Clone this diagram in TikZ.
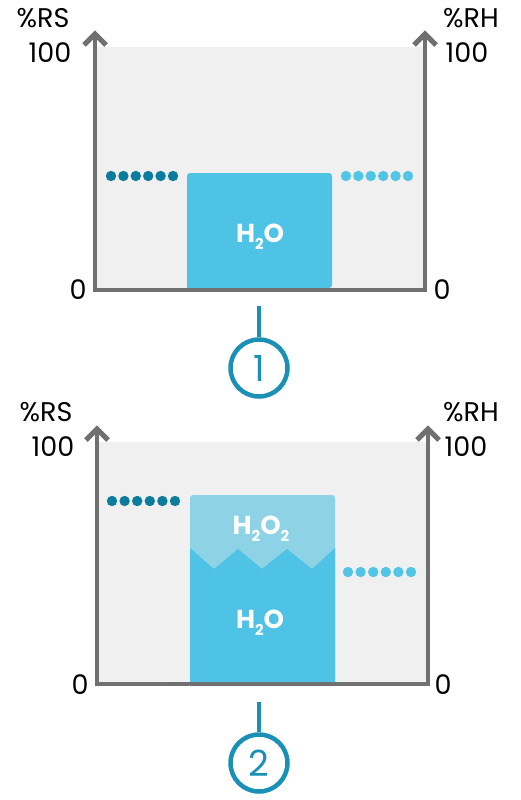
\documentclass[tikz,border=0pt]{standalone}
\usepackage{fontspec}
\setmainfont{Poppins}
\definecolor{axisgray}{HTML}{707070}
\definecolor{bggray}{HTML}{F0F0F0}
\definecolor{waterblue}{HTML}{4EC3E6}
\definecolor{peroxblue}{HTML}{8DD3E5}
\definecolor{darkdot}{HTML}{0B7C9C}
\definecolor{lightdot}{HTML}{52C4E4}
\definecolor{teal}{HTML}{1A90B6}
\tikzset{
  axisline/.style={draw=axisgray, line width=4.5pt, line join=miter},
  chevron/.style={draw=axisgray, line width=5pt, line join=miter, line cap=butt},
  axlabel/.style={font=\fontsize{27}{28}\selectfont, text=black, inner sep=0pt},
  chem/.style={font=\bfseries\fontsize{26}{28}\selectfont, text=white, inner sep=0pt},
  stepcircle/.style={circle, draw=teal, line width=4.5pt, minimum size=57pt, inner sep=0pt,
    font=\fontsize{36}{38}\selectfont, text=teal},
  stem/.style={draw=teal, line width=4pt},
  ddot/.style={fill=darkdot},
  ldot/.style={fill=lightdot},
}
\newcommand{\chev}[2]{\draw[chevron] (#1-11,#2+12) -- (#1,#2+1) -- (#1+11,#2+12);}
\newcommand{\sub}[1]{\raisebox{-0.28em}{\fontsize{15}{16}\selectfont #1}}
\begin{document}
\begin{tikzpicture}[x=1pt,y=-1pt]
\useasboundingbox (0,0) rectangle (520,800);
% ---------------- chart 1
\fill[bggray] (97,47) rectangle (424,288);
\fill[waterblue, rounded corners=3pt] (187,288) -- (187,173) -- (332,173) -- (332,288) [sharp corners] -- cycle;
\node[chem] (w1) at (260,237) {H\sub{2}O};
\foreach \i in {0,...,5} {
  \fill[ddot] (111+\i*12.4,176) circle (5.2);
  \fill[ldot] (346+\i*12.4,176) circle (5.2);
}
\draw[axisline] (95,34) -- (95,290) -- (425,290) -- (425,34);
\chev{95}{33}
\chev{425}{33}
\node[axlabel] (rs1) at (43,18) {\%RS};
\node[axlabel] (h1l) at (50,53) {100};
\node[axlabel] (rh1) at (471,18) {\%RH};
\node[axlabel] (h1r) at (467,53) {100};
\node[axlabel] (z1l) at (78,290) {0};
\node[axlabel] (z1r) at (442,290) {0};
\coordinate (t1) at (259,306);
\node[stepcircle] (c1) at (259,368) {1};
\draw[stem] (t1) -- (c1.north);
% ---------------- chart 2
\fill[bggray] (99,442) rectangle (427,682);
\fill[peroxblue, rounded corners=3pt] (190,683) -- (190,495) -- (335,495) -- (335,683) [sharp corners] -- cycle;
\fill[waterblue] (190,683) -- (190,548) -- (214,569) -- (238,549) -- (262,569) -- (287,549) -- (312,569) -- (335,548) -- (335,683) -- cycle;
\node[chem] (w2) at (260,623) {H\sub{2}O};
\node[chem] (p2) at (261,529) {H\sub{2}O\sub{2}};
\foreach \i in {0,...,5} {
  \fill[ddot] (112+\i*12.6,501) circle (5.2);
  \fill[ldot] (348+\i*12.6,572) circle (5.2);
}
\draw[axisline] (97,429) -- (97,684) -- (428,684) -- (428,429);
\chev{97}{428}
\chev{428}{428}
\node[axlabel] (rs2) at (46,412) {\%RS};
\node[axlabel] (h2l) at (53,447) {100};
\node[axlabel] (rh2) at (471,412) {\%RH};
\node[axlabel] (h2r) at (466,447) {100};
\node[axlabel] (z2l) at (80,685) {0};
\node[axlabel] (z2r) at (443,685) {0};
\coordinate (t2) at (259,702);
\node[stepcircle] (c2) at (259,763) {2};
\draw[stem] (t2) -- (c2.north);
\end{tikzpicture}
\end{document}
